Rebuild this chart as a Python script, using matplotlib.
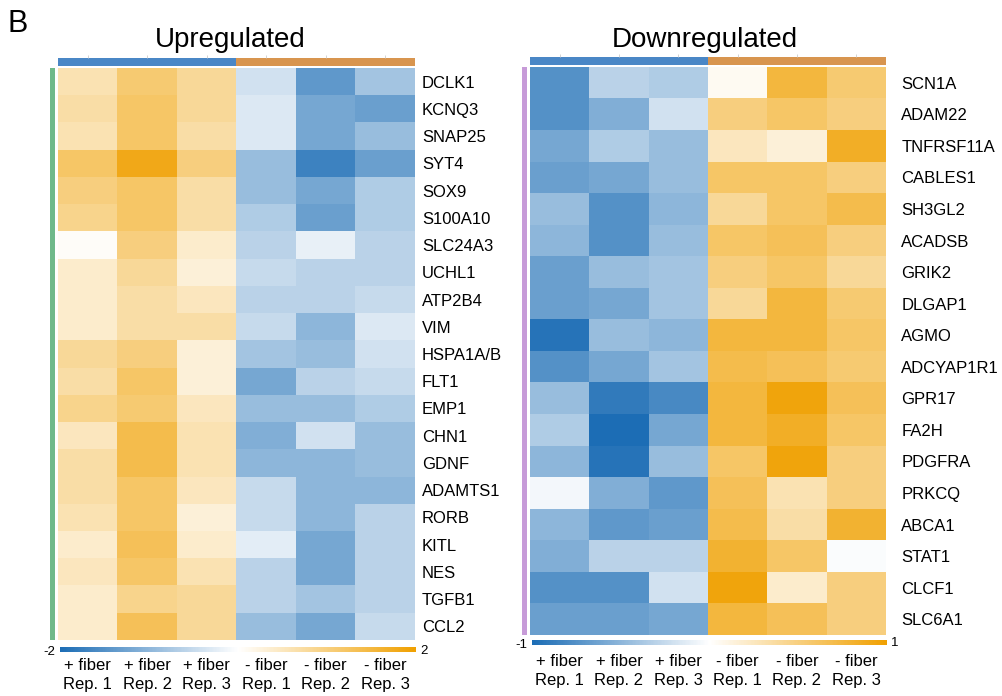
import numpy as np
import matplotlib
matplotlib.use("Agg")
import matplotlib.pyplot as plt
from matplotlib.colors import LinearSegmentedColormap, Normalize
from matplotlib.cm import ScalarMappable

plt.rcParams["font.family"] = ["Liberation Sans", "DejaVu Sans"]

# Sample columns
columns = ["+ fiber\nRep. 1", "+ fiber\nRep. 2", "+ fiber\nRep. 3",
           "- fiber\nRep. 1", "- fiber\nRep. 2", "- fiber\nRep. 3"]

# Upregulated genes (z-scores, scale -2..2)
up_genes = ["DCLK1", "KCNQ3", "SNAP25", "SYT4", "SOX9", "S100A10", "SLC24A3",
            "UCHL1", "ATP2B4", "VIM", "HSPA1A/B", "FLT1", "EMP1", "CHN1",
            "GDNF", "ADAMTS1", "RORB", "KITL", "NES", "TGFB1", "CCL2"]
up_values = [
    [0.6, 1.1, 0.8, -0.4, -1.4, -0.8],
    [0.7, 1.2, 0.8, -0.3, -1.2, -1.3],
    [0.6, 1.2, 0.7, -0.3, -1.2, -0.9],
    [1.2, 1.8, 1.0, -0.9, -1.7, -1.3],
    [1.0, 1.2, 0.7, -0.9, -1.2, -0.7],
    [0.9, 1.2, 0.7, -0.7, -1.3, -0.7],
    [0.05, 1.0, 0.4, -0.6, -0.2, -0.6],
    [0.4, 0.8, 0.3, -0.5, -0.6, -0.6],
    [0.4, 0.7, 0.5, -0.6, -0.6, -0.5],
    [0.4, 0.7, 0.7, -0.5, -1.0, -0.3],
    [0.8, 1.0, 0.3, -0.8, -0.9, -0.4],
    [0.7, 1.2, 0.3, -1.2, -0.6, -0.5],
    [0.9, 1.1, 0.5, -0.9, -0.9, -0.7],
    [0.5, 1.4, 0.6, -1.1, -0.4, -0.9],
    [0.7, 1.4, 0.6, -1.0, -1.0, -0.9],
    [0.7, 1.2, 0.5, -0.5, -1.0, -1.0],
    [0.6, 1.2, 0.3, -0.5, -1.0, -0.6],
    [0.4, 1.3, 0.4, -0.25, -1.2, -0.6],
    [0.5, 1.2, 0.6, -0.6, -1.2, -0.6],
    [0.4, 0.9, 0.8, -0.6, -0.8, -0.6],
    [0.4, 1.3, 0.8, -0.9, -1.2, -0.5],
]

# Downregulated genes (z-scores, scale -1..1)
down_genes = ["SCN1A", "ADAM22", "TNFRSF11A", "CABLES1", "SH3GL2", "ACADSB",
              "GRIK2", "DLGAP1", "AGMO", "ADCYAP1R1", "GPR17", "FA2H",
              "PDGFRA", "PRKCQ", "ABCA1", "STAT1", "CLCF1", "SLC6A1"]
down_values = [
    [-0.75, -0.3, -0.35, 0.05, 0.75, 0.55],
    [-0.75, -0.55, -0.2, 0.5, 0.6, 0.5],
    [-0.6, -0.35, -0.45, 0.25, 0.15, 0.85],
    [-0.65, -0.6, -0.45, 0.6, 0.6, 0.5],
    [-0.45, -0.75, -0.5, 0.4, 0.6, 0.7],
    [-0.5, -0.75, -0.45, 0.6, 0.65, 0.5],
    [-0.65, -0.45, -0.4, 0.5, 0.6, 0.4],
    [-0.65, -0.6, -0.4, 0.4, 0.75, 0.55],
    [-0.95, -0.45, -0.5, 0.75, 0.75, 0.6],
    [-0.75, -0.6, -0.4, 0.7, 0.65, 0.55],
    [-0.45, -0.9, -0.8, 0.75, 0.95, 0.65],
    [-0.35, -1.0, -0.6, 0.75, 0.85, 0.6],
    [-0.5, -0.95, -0.45, 0.6, 0.95, 0.5],
    [-0.05, -0.55, -0.7, 0.65, 0.3, 0.5],
    [-0.5, -0.7, -0.65, 0.7, 0.35, 0.8],
    [-0.55, -0.3, -0.3, 0.8, 0.6, -0.02],
    [-0.75, -0.75, -0.2, 0.95, 0.2, 0.5],
    [-0.65, -0.65, -0.6, 0.75, 0.65, 0.5],
]

# Group annotation: 0 = + fiber, 1 = - fiber
groups = [0, 0, 0, 1, 1, 1]

cmap = LinearSegmentedColormap.from_list(
    "bwo", ["#1c6db5", "#ffffff", "#f0a000"])
group_cmap = LinearSegmentedColormap.from_list("grp", ["#4a87c6", "#d8954f"], N=2)

W, H = 1003, 696
fig = plt.figure(figsize=(W / 100, H / 100), dpi=100)


def px_axes(x0, y0, x1, y1):
    return fig.add_axes([x0 / W, 1 - y1 / H, (x1 - x0) / W, (y1 - y0) / H])


def panel(genes, values, vmin, vmax, hx0, hx1, hy0, hy1, side_color,
          title, title_x, cb_y0, cb_y1, lab_y, label_px):
    data = np.array(values)
    # heatmap
    ax = px_axes(hx0, hy0, hx1, hy1)
    ax.imshow(data, cmap=cmap, vmin=vmin, vmax=vmax, aspect="auto",
              interpolation="nearest")
    ax.set_xticks([])
    for s in ax.spines.values():
        s.set_visible(False)

    # gene names on the right
    ax.yaxis.tick_right()
    ax.set_yticks(range(len(genes)))
    ax.set_yticklabels(genes, fontsize=12)
    ax.tick_params(axis="y", length=0, pad=label_px)

    # top group bar
    axt = px_axes(hx0, hy0 - 10, hx1, hy0 - 2)
    axt.imshow(np.array([groups]), cmap=group_cmap, vmin=0, vmax=1,
               aspect="auto", interpolation="nearest")
    axt.set_yticks([])
    axt.set_xticks(range(len(groups)))
    axt.set_xticklabels([])
    axt.xaxis.set_ticks_position("top")
    axt.tick_params(axis="x", length=2, width=0.6, color="#cccccc")
    for s in axt.spines.values():
        s.set_visible(False)
    fig.text(title_x / W, 1 - 47 / H, title, fontsize=20, ha="center",
             va="baseline")

    # side cluster bar
    axs = px_axes(hx0 - 8, hy0, hx0 - 3, hy1)
    axs.set_facecolor(side_color)
    axs.set_xticks([])
    axs.set_yticks([])
    for s in axs.spines.values():
        s.set_visible(False)

    # colour bar
    axc = px_axes(hx0 + 2, cb_y0, hx1 + 1, cb_y1)
    sm = ScalarMappable(norm=Normalize(vmin, vmax), cmap=cmap)
    cb = fig.colorbar(sm, cax=axc, orientation="horizontal")
    cb.outline.set_visible(False)
    cb.set_ticks([])
    axc.text(-0.012, 0.0, f"{vmin:g}", transform=axc.transAxes,
             ha="right", va="center", fontsize=9.5)
    axc.text(1.012, 0.3, f"{vmax:g}", transform=axc.transAxes,
             ha="left", va="center", fontsize=9.5)

    # column labels
    for j, c in enumerate(columns):
        xp = hx0 + (j + 0.5) * (hx1 - hx0) / len(columns)
        fig.text(xp / W, 1 - lab_y / H, c, ha="center", va="center",
                 fontsize=12, linespacing=1.25)


fig.text(8 / W, 1 - 24 / H, "B", fontsize=22, ha="left", va="center")

panel(up_genes, up_values, -2, 2, 58, 415, 68, 640, "#6fb98a",
      "Upregulated", 230, 647, 652, 675, 5)
panel(down_genes, down_values, -1, 1, 530, 886, 67, 635, "#c79bd8",
      "Downregulated", 705, 640, 645, 671, 11)

fig.savefig("out.png", dpi=100, facecolor="white")
